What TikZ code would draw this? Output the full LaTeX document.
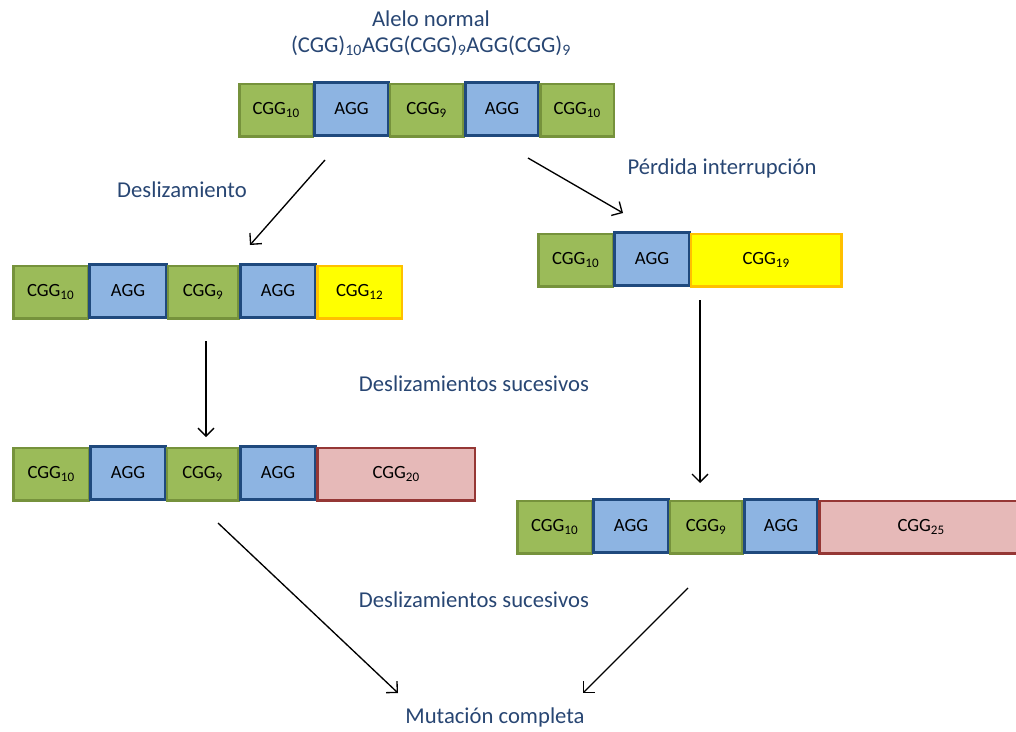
\documentclass[tikz,border=0pt]{standalone}
\usepackage{fontspec}
\setmainfont{Carlito}
\usepackage{tikz}
\usetikzlibrary{matrix}
\usetikzlibrary{positioning}
\usetikzlibrary{arrows.meta}

\definecolor{cggfill}{RGB}{155,187,89}
\definecolor{cggline}{RGB}{118,146,60}
\definecolor{aggfill}{RGB}{141,180,226}
\definecolor{aggline}{RGB}{31,73,125}
\definecolor{newfill}{RGB}{255,255,0}
\definecolor{newline}{RGB}{255,192,0}
\definecolor{fullfill}{RGB}{230,185,184}
\definecolor{fullline}{RGB}{149,55,53}
\definecolor{labelblue}{RGB}{40,70,115}

\tikzset{
  cell/.style = {
    line width = 2pt, minimum height = 39.5pt, inner sep = 0pt,
    font = \fontsize{14}{17}\selectfont,
  },
  cgg/.style  = {cell, fill = cggfill, draw = cggline, minimum width = #1},
  agg/.style  = {cell, fill = aggfill, draw = aggline, line width = 2.4pt, minimum width = #1},
  grow/.style = {cell, fill = newfill, draw = newline, minimum width = #1},
  full/.style = {cell, fill = fullfill, draw = fullline, minimum width = #1},
  allele/.style = {
    matrix of nodes, anchor = north west,
    column sep = -1pt, inner sep = 0pt, outer sep = 0pt,
  },
  steptext/.style = {text = labelblue, font = \fontsize{17}{20}\selectfont},
}

\begin{document}
\begin{tikzpicture}[x = 0.75pt, y = -0.75pt]
        \useasboundingbox (0,0) rectangle (1016,731);
        \clip (0,0) rectangle (1016,731);

        % normal allele
        \node[steptext] (title) at (431,19) {Alelo normal};
        \node[steptext] (formula) at (431,46)
          {(CGG)\textsubscript{10}AGG(CGG)\textsubscript{9}AGG(CGG)\textsubscript{9}};

        \matrix (normal) [allele] at (238,81) {
          |[cgg=55.25pt]| CGG\textsubscript{10} &
          |[agg=55.25pt]| AGG &
          |[cgg=55.25pt]| CGG\textsubscript{9} &
          |[agg=55.25pt]| AGG &
          |[cgg=55.25pt]| CGG\textsubscript{10} \\
        };

        % left branch
        \matrix (slipA) [allele] at (12,263) {
          |[cgg=56pt]| CGG\textsubscript{10} &
          |[agg=57.5pt]| AGG &
          |[cgg=53pt]| CGG\textsubscript{9} &
          |[agg=56.75pt]| AGG &
          |[grow=63.5pt]| CGG\textsubscript{12} \\
        };

        \matrix (slipB) [allele] at (12,445) {
          |[cgg=56.75pt]| CGG\textsubscript{10} &
          |[agg=56pt]| AGG &
          |[cgg=53.75pt]| CGG\textsubscript{9} &
          |[agg=56.75pt]| AGG &
          |[full=118.25pt]| CGG\textsubscript{20} \\
        };

        % right branch
        \matrix (lossA) [allele] at (537,231) {
          |[cgg=56pt]| CGG\textsubscript{10} &
          |[agg=56pt]| AGG &
          |[grow=113pt]| CGG\textsubscript{19} \\
        };

        \matrix (lossB) [allele] at (516,498) {
          |[cgg=56pt]| CGG\textsubscript{10} &
          |[agg=56pt]| AGG &
          |[cgg=54.5pt]| CGG\textsubscript{9} &
          |[agg=55.25pt]| AGG &
          |[full=152.75pt]| CGG\textsubscript{25} \\
        };

        % step labels
        \node[steptext] (slip)   at (182,190) {Deslizamiento};
        \node[steptext] (loss)   at (722,168) {Pérdida interrupción};
        \node[steptext] (succA)  at (474,384) {Deslizamientos sucesivos};
        \node[steptext] (succB)  at (474,600) {Deslizamientos sucesivos};
        \node[steptext] (result) at (495,717) {Mutación completa};

        % arrow ends
        \coordinate (a1) at (325,160);  \coordinate (b1) at (250,245);
        \coordinate (a2) at (528,158);  \coordinate (b2) at (623,213);
        \coordinate (a3) at (206,341);  \coordinate (b3) at (206,437);
        \coordinate (a4) at (700,300);  \coordinate (b4) at (700,483);
        \coordinate (a5) at (218,523);  \coordinate (b5) at (398,693);
        \coordinate (a6) at (688,588);  \coordinate (b6) at (583,693);

        \begin{scope}[line width = 1pt, -{Straight Barb[length=6pt, width=12pt]}]
          \draw (a1) -- (b1);
          \draw (a2) -- (b2);
          \draw (a3) -- (b3);
          \draw (a4) -- (b4);
          \draw (a5) -- (b5);
          \draw (a6) -- (b6);
        \end{scope}

      \end{tikzpicture}
\end{document}
